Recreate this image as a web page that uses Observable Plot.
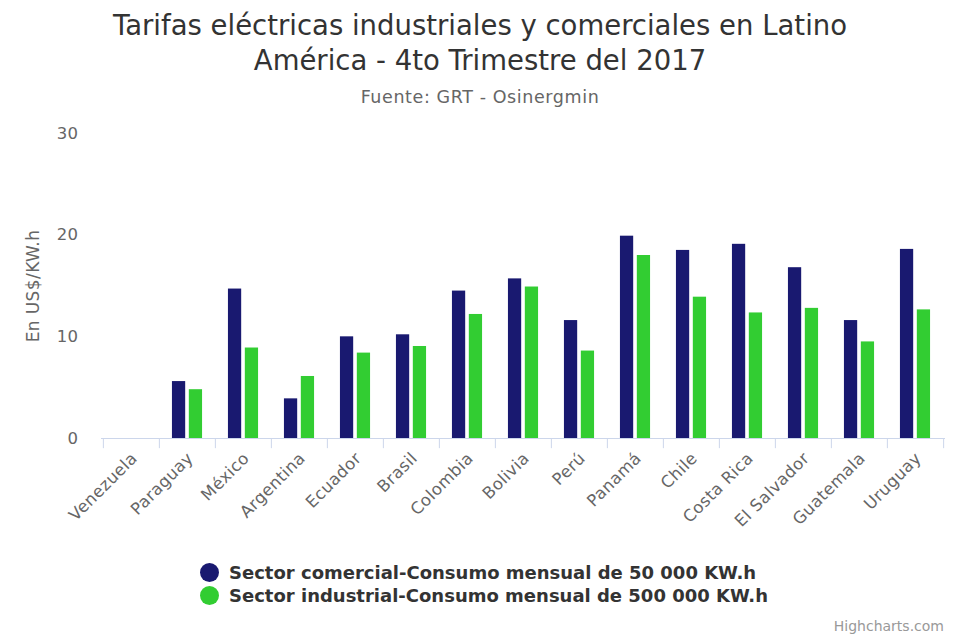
<!DOCTYPE html>
<html>
<head>
<meta charset="utf-8">
<script src="https://cdn.jsdelivr.net/npm/d3@7"></script>
<script src="https://cdn.jsdelivr.net/npm/@observablehq/plot@0.6"></script>
<style>
  html, body { margin: 0; padding: 0; background: #fff; }
  body { width: 960px; height: 640px; position: relative; overflow: hidden; font-family: "DejaVu Sans", sans-serif; }
  #title { position: absolute; top: 8px; left: 0; width: 960px; text-align: center; color: #333; font-size: 27.5px; line-height: 35px; }
  #subtitle { position: absolute; top: 87px; left: 0; width: 960px; text-align: center; color: #666; font-size: 17.5px; letter-spacing: 0.6px; }
  #chart { position: absolute; top: 110px; left: 0; }
  #chart svg text { letter-spacing: 0.4px; }
  #legend { position: absolute; top: 561px; left: 200px; color: #333; font-size: 18px; font-weight: bold; line-height: 23px; }
  #legend .item { display: flex; align-items: center; }
  #legend .dot { width: 19px; height: 19px; border-radius: 50%; margin-right: 10px; display: inline-block; }
  #credits { position: absolute; right: 16px; top: 618px; color: #999; font-size: 14px; }
</style>
</head>
<body>
<div id="title">Tarifas eléctricas industriales y comerciales en Latino<br>América - 4to Trimestre del 2017</div>
<div id="subtitle">Fuente: GRT - Osinergmin</div>
<div id="chart"></div>
<div id="legend"></div>
<div id="credits">Highcharts.com</div>
<script>
const countries = ["Venezuela","Paraguay","México","Argentina","Ecuador","Brasil","Colombia","Bolivia","Perú","Panamá","Chile","Costa Rica","El Salvador","Guatemala","Uruguay"];
const seriesNames = ["Sector comercial-Consumo mensual de 50 000 KW.h","Sector industrial-Consumo mensual de 500 000 KW.h"];
const comercial = [null, 5.6, 14.7, 3.9, 10.0, 10.2, 14.5, 15.7, 11.6, 19.9, 18.5, 19.1, 16.8, 11.6, 18.6];
const industrial = [null, 4.8, 8.9, 6.1, 8.4, 9.05, 12.2, 14.9, 8.6, 18.0, 13.9, 12.35, 12.8, 9.5, 12.65];
const seriesColors = ["#191970", "#32CD32"];
const yTicks = [0, 10, 20, 30];

const comData = countries.map((c, i) => ({country: c, value: comercial[i]})).filter(d => d.value != null);
const indData = countries.map((c, i) => ({country: c, value: industrial[i]})).filter(d => d.value != null);

const W = 960, H = 430, ML = 101, MR = 15, MT = 23, MB = 102;
const bw = (W - ML - MR) / countries.length;
// Highcharts-like grouping: groupPadding 0.2, pointPadding 0.1
const slot = bw * 0.6 / 2;
const leftA = bw * 0.2 + slot * 0.1;
const barW = slot * 0.8;
const leftB = leftA + slot;

const plot = Plot.plot({
  width: W, height: H,
  marginLeft: ML, marginRight: MR, marginTop: MT, marginBottom: MB,
  style: {fontFamily: "DejaVu Sans, sans-serif", fontSize: "16px", color: "#666", background: "#fff"},
  x: {domain: countries, padding: 0, label: null},
  y: {domain: [0, 30], ticks: yTicks, label: null},
  marks: [
    Plot.axisY({ticks: yTicks, tickSize: 0, tickPadding: 23, fontSize: 16.5, fill: "#666", label: null}),
    Plot.text(["En US$/KW.h"], {frameAnchor: "left", textAnchor: "middle", rotate: -90, dx: -68, fill: "#666", fontSize: 17}),
    Plot.axisX({tickSize: 0, tickRotate: -45, fontSize: 16.5, fill: "#666", textAnchor: "end", tickPadding: 17, dx: 3, label: null}),
    Plot.barY(comData, {x: "country", y: "value", fill: seriesColors[0], insetLeft: leftA, insetRight: bw - leftA - barW}),
    Plot.barY(indData, {x: "country", y: "value", fill: seriesColors[1], insetLeft: leftB, insetRight: bw - leftB - barW}),
    Plot.ruleY([0], {stroke: "#ccd6eb", strokeWidth: 1.2}),
    Plot.ruleX(countries, {x: d => d, dx: -bw / 2, y1: 0, y2: -1, stroke: "#ccd6eb"}),
    Plot.ruleX([countries[countries.length - 1]], {x: d => d, dx: bw / 2, y1: 0, y2: -1, stroke: "#ccd6eb"})
  ]
});
document.getElementById("chart").appendChild(plot);

const legend = document.getElementById("legend");
seriesNames.forEach((s, i) => {
  const item = document.createElement("div");
  item.className = "item";
  const dot = document.createElement("span");
  dot.className = "dot";
  dot.style.background = seriesColors[i];
  item.appendChild(dot);
  item.appendChild(document.createTextNode(s));
  legend.appendChild(item);
});
</script>
</body>
</html>
